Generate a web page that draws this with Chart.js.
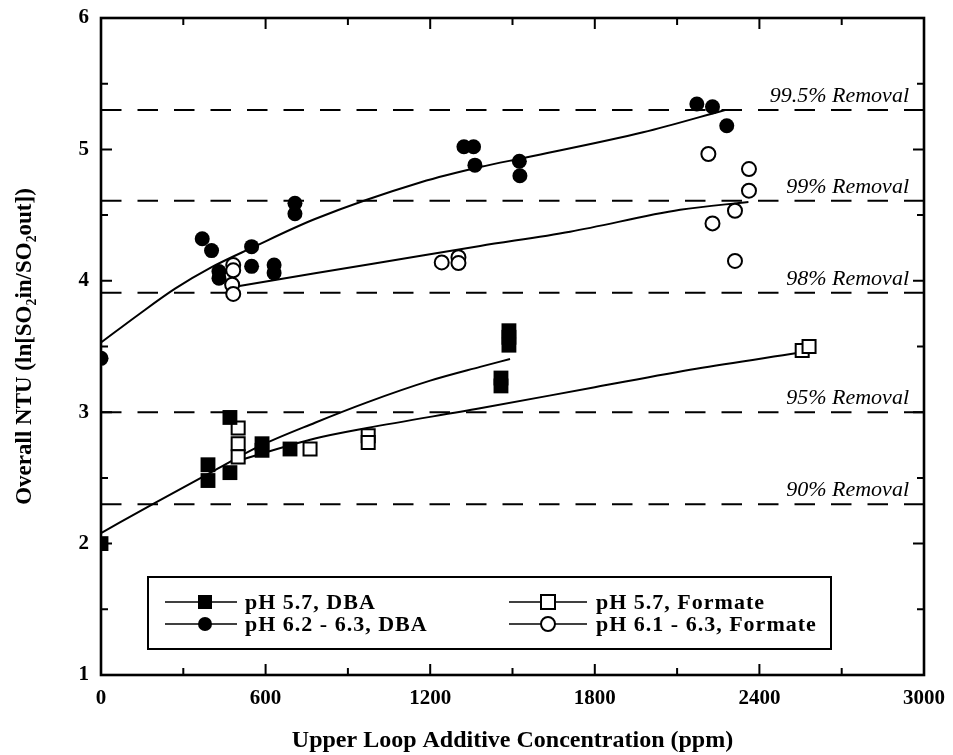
<!DOCTYPE html>
<html>
<head>
<meta charset="utf-8">
<script src="https://cdn.jsdelivr.net/npm/chart.js@4/dist/chart.umd.min.js"></script>
<style>
  html, body { margin: 0; padding: 0; background: #fff; }
  #wrap { width: 953px; height: 755px; position: relative; }
</style>
</head>
<body>
<div id="wrap"><canvas id="c"></canvas></div>
<script>
// pH 5.7, DBA (filled squares)
const dba57X = [0, 390, 390, 470, 470, 587, 587, 689, 1458, 1458, 1487, 1487, 1487];
const dba57Y = [2.00, 2.60, 2.48, 2.96, 2.54, 2.76, 2.71, 2.72, 3.26, 3.20, 3.62, 3.57, 3.51];
// pH 6.2 - 6.3, DBA (filled circles)
const dba62X = [0, 369, 403, 430, 430, 549, 549, 631, 631, 707, 707, 1323, 1358, 1363, 1525, 1527, 2172, 2229, 2281];
const dba62Y = [3.41, 4.32, 4.23, 4.07, 4.02, 4.26, 4.11, 4.12, 4.06, 4.59, 4.51, 5.02, 5.02, 4.88, 4.91, 4.80, 5.345, 5.325, 5.18];
// pH 5.7, Formate (open squares)
const form57X = [500, 500, 500, 762, 974, 974, 2556, 2581];
const form57Y = [2.88, 2.76, 2.66, 2.72, 2.82, 2.77, 3.47, 3.50];
// pH 6.1 - 6.3, Formate (open circles)
const form61X = [482, 482, 478, 482, 1242, 1303, 1303, 2214, 2362, 2362, 2311, 2229, 2311];
const form61Y = [4.12, 4.08, 3.97, 3.90, 4.14, 4.18, 4.135, 4.965, 4.85, 4.686, 4.533, 4.437, 4.151];

// fitted trend curves
const fitDba57X = [0, 197, 416, 574, 780, 970, 1200, 1382, 1491];
const fitDba57Y = [2.08, 2.31, 2.56, 2.738, 2.92, 3.075, 3.24, 3.345, 3.405];
const fitDba62X = [0, 135, 270, 400, 549, 780, 1166, 1382, 1553, 1976, 2275];
const fitDba62Y = [3.53, 3.74, 3.94, 4.10, 4.25, 4.47, 4.75, 4.866, 4.94, 5.13, 5.30];
const fitForm57X = [482, 780, 970, 1382, 1800, 2170, 2537];
const fitForm57Y = [2.62, 2.80, 2.88, 3.03, 3.19, 3.33, 3.45];
const fitForm61X = [488, 780, 1166, 1382, 1710, 2111, 2360];
const fitForm61Y = [3.955, 4.057, 4.19, 4.265, 4.374, 4.54, 4.60];

// SO2 removal reference levels: NTU = ln(1 / (1 - removal))
const removalLevels = [5.30, 4.61, 3.91, 3.00, 2.30];
const removalLabels = ['99.5% Removal', '99% Removal', '98% Removal', '95% Removal', '90% Removal'];

const seriesNames = ['pH 5.7, DBA', 'pH 6.2 - 6.3, DBA', 'pH 5.7, Formate', 'pH 6.1 - 6.3, Formate'];

const xRange = [0, 3000];
const yRange = [1, 6];

const pts = (xs, ys) => xs.map((x, i) => ({ x, y: ys[i] }));

const SERIF = '"Liberation Serif", "Times New Roman", serif';

const markerSets = [
  { label: seriesNames[0], data: pts(dba57X, dba57Y), pointStyle: 'rect', pointRadius: 10.5,
    backgroundColor: '#000', borderColor: '#000', pointBorderWidth: 0, showLine: false, legendSlot: 0 },
  { label: seriesNames[1], data: pts(dba62X, dba62Y), pointStyle: 'circle', pointRadius: 7.5,
    backgroundColor: '#000', borderColor: '#000', pointBorderWidth: 0, showLine: false, legendSlot: 1 },
  { label: seriesNames[2], data: pts(form57X, form57Y), pointStyle: 'rect', pointRadius: 9.2,
    backgroundColor: '#fff', borderColor: '#000', pointBorderWidth: 2, showLine: false, legendSlot: 2 },
  { label: seriesNames[3], data: pts(form61X, form61Y), pointStyle: 'circle', pointRadius: 7,
    backgroundColor: '#fff', borderColor: '#000', pointBorderWidth: 2, showLine: false, legendSlot: 3 }
];

const fitLine = (xs, ys) => ({
  type: 'line', data: pts(xs, ys), borderColor: '#000', borderWidth: 2,
  pointRadius: 0, cubicInterpolationMode: 'monotone', fill: false
});

const fitSets = [
  fitLine(fitDba57X, fitDba57Y),
  fitLine(fitDba62X, fitDba62Y),
  fitLine(fitForm57X, fitForm57Y),
  fitLine(fitForm61X, fitForm61Y)
];

const removalSets = removalLevels.map(v => ({
  type: 'line', data: [{ x: xRange[0], y: v }, { x: xRange[1], y: v }],
  borderColor: '#000', borderWidth: 2, borderDash: [20.5, 16], borderDashOffset: 0,
  pointRadius: 0, fill: false
}));

// inward tick marks on all four sides plus the heavy frame
const framePlugin = {
  id: 'frame',
  afterDatasetsDraw(chart) {
    const { ctx, chartArea: a, scales: { x, y } } = chart;
    ctx.save();
    ctx.strokeStyle = '#000';
    ctx.lineWidth = 2;
    ctx.beginPath();
    for (let v = xRange[0]; v <= xRange[1]; v += 300) {
      const px = x.getPixelForValue(v);
      const len = v % 600 === 0 ? 11 : 7;
      ctx.moveTo(px, a.bottom); ctx.lineTo(px, a.bottom - len);
      ctx.moveTo(px, a.top); ctx.lineTo(px, a.top + len);
    }
    for (let v = yRange[0]; v <= yRange[1] + 1e-9; v += 0.5) {
      const py = y.getPixelForValue(v);
      const len = Math.abs(v - Math.round(v)) < 1e-9 ? 11 : 7;
      ctx.moveTo(a.left, py); ctx.lineTo(a.left + len, py);
      ctx.moveTo(a.right, py); ctx.lineTo(a.right - len, py);
    }
    ctx.stroke();
    ctx.lineWidth = 2.6;
    ctx.strokeRect(a.left, a.top, a.right - a.left, a.bottom - a.top);

    // removal labels sitting just above each dashed level
    ctx.fillStyle = '#000';
    ctx.font = 'italic 22px ' + SERIF;
    ctx.textAlign = 'right';
    ctx.textBaseline = 'alphabetic';
    removalLevels.forEach((v, i) => {
      ctx.fillText(removalLabels[i], a.right - 15, y.getPixelForValue(v) - 8);
    });
    ctx.restore();
  }
};

// boxed two-column legend inside the plot area
const legendPlugin = {
  id: 'boxLegend',
  afterDraw(chart) {
    const { ctx, chartArea: a } = chart;
    const box = { left: a.left + 47, top: 577, right: 831, bottom: 649 };
    ctx.save();
    ctx.fillStyle = '#fff';
    ctx.fillRect(box.left, box.top, box.right - box.left, box.bottom - box.top);
    ctx.strokeStyle = '#000';
    ctx.lineWidth = 2;
    ctx.strokeRect(box.left, box.top, box.right - box.left, box.bottom - box.top);
    const cols = [{ l0: 165, l1: 237, m: 205, t: 245 }, { l0: 509, l1: 587, m: 548, t: 596 }];
    const rows = [602, 624];
    ctx.font = 'bold 22px ' + SERIF;
    if ('letterSpacing' in ctx) ctx.letterSpacing = '1px';
    ctx.textBaseline = 'middle';
    ctx.textAlign = 'left';
    chart.data.datasets.forEach(ds => {
      if (ds.legendSlot === undefined) return;
      const c = cols[Math.floor(ds.legendSlot / 2)];
      const ry = rows[ds.legendSlot % 2];
      ctx.strokeStyle = '#000';
      ctx.lineWidth = 1.5;
      ctx.beginPath(); ctx.moveTo(c.l0, ry); ctx.lineTo(c.l1, ry); ctx.stroke();
      ctx.fillStyle = ds.backgroundColor;
      ctx.lineWidth = ds.pointBorderWidth || 0;
      const r = 7;
      ctx.beginPath();
      if (ds.pointStyle === 'rect') ctx.rect(c.m - r, ry - r, 2 * r, 2 * r);
      else ctx.arc(c.m, ry, r, 0, Math.PI * 2);
      ctx.fill();
      if (ds.pointBorderWidth) ctx.stroke();
      ctx.fillStyle = '#000';
      ctx.fillText(ds.label, c.t, ry + 1);
    });
    ctx.restore();
  }
};

// keep the plot frame fixed: the axes do not reserve extra room for end labels
const fixPadding = s => { s.paddingTop = 0; s.paddingBottom = 0; s.paddingLeft = 0; s.paddingRight = 0; };

new Chart(document.getElementById('c'), {
  type: 'scatter',
  data: { datasets: [...markerSets, ...fitSets, ...removalSets] },
  options: {
    responsive: true,
    maintainAspectRatio: false,
    animation: false,
    layout: { padding: { left: 0, top: 18, right: 29, bottom: 0 } },
    plugins: { legend: { display: false }, tooltip: { enabled: false } },
    scales: {
      x: {
        type: 'linear', min: xRange[0], max: xRange[1],
        border: { display: false },
        grid: { display: false, drawTicks: false },
        ticks: { stepSize: 600, padding: 11, color: '#000', font: { family: SERIF, size: 21, weight: 'bold' },
                 callback: v => String(v) },
        title: { display: true, text: 'Upper Loop Additive Concentration (ppm)', color: '#000',
                 font: { family: SERIF, size: 24, weight: 'bold' }, padding: { top: 2, bottom: 0 } },
        afterFit(s) { s.height = 80; fixPadding(s); }
      },
      y: {
        type: 'linear', min: yRange[0], max: yRange[1],
        border: { display: false },
        grid: { display: false, drawTicks: false },
        ticks: { stepSize: 1, padding: 12, color: '#000', font: { family: SERIF, size: 21, weight: 'bold' },
                 callback: v => String(v) },
        title: { display: true, text: 'Overall NTU (ln[SO\u2082in/SO\u2082out])', color: '#000',
                 font: { family: SERIF, size: 23, weight: 'bold' }, padding: { top: 11, bottom: 0 } },
        afterFit(s) { s.width = 101; fixPadding(s); }
      }
    }
  },
  plugins: [framePlugin, legendPlugin]
});
</script>
</body>
</html>
